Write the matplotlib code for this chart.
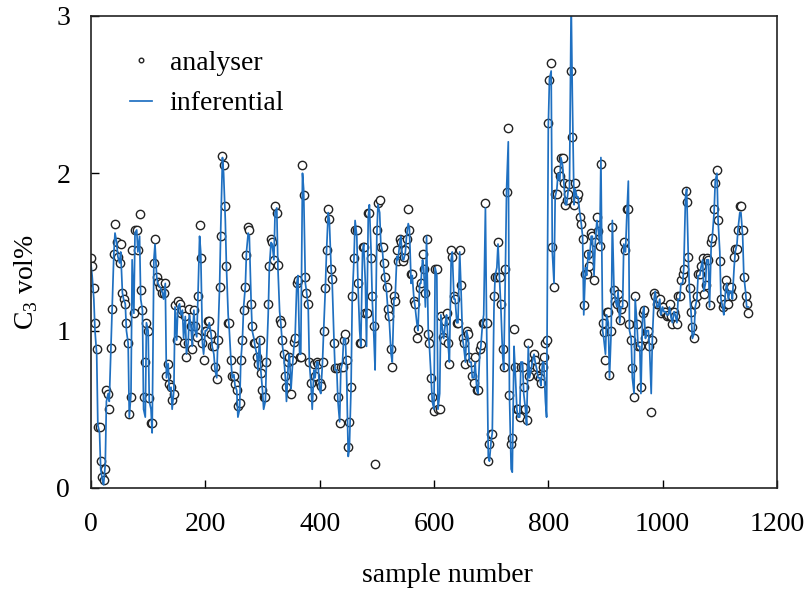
import numpy as np
import matplotlib
matplotlib.use('Agg')
import matplotlib.pyplot as plt

plt.rcParams['font.family'] = ['Liberation Serif', 'DejaVu Serif']
plt.rcParams['mathtext.fontset'] = 'custom'
plt.rcParams['mathtext.rm'] = 'Liberation Serif'

# sample numbers: two interleaved grids (every 5th sample, and offset by 2)
sample_a = np.arange(0, 1151, 5)
sample_b = np.arange(2, 1148, 5)

# inferential estimate (line)
inferential_a = [
    1.42, 1.2, 0.85, 0.35, 0.05, 0.15, 0.6, 0.9, 1.49, 1.56,
    1.43, 1.24, 1.17, 0.92, 0.6, 1.11, 1.64, 1.6, 1.13, 0.45,
    1.0, 0.5, 1.45, 1.34, 1.28, 1.24, 1.3, 0.79, 0.64, 0.62,
    0.94, 1.17, 1.13, 1.09, 0.92, 1.03, 1.13, 0.96, 1.6, 0.92,
    1.0, 1.02, 0.98, 0.85, 0.7, 1.28, 2.1, 1.7, 1.1, 0.8,
    0.72, 0.62, 0.5, 0.95, 1.28, 1.62, 1.2, 0.95, 0.85, 0.95,
    0.62, 0.55, 1.1, 1.56, 1.45, 1.78, 1.12, 0.9, 0.7, 0.78,
    0.63, 0.9, 1.3, 0.85, 2.0, 1.3, 1.15, 0.65, 0.75, 0.8,
    0.62, 0.8, 1.27, 1.75, 1.4, 0.95, 0.75, 0.42, 0.8, 0.95,
    0.2, 0.65, 1.45, 1.6, 1.0, 1.5, 1.3, 1.72, 1.5, 0.95,
    1.6, 1.75, 1.5, 1.3, 1.1, 0.85, 1.2, 1.47, 1.55, 1.45,
    1.5, 1.68, 1.3, 1.2, 1.05, 1.3, 1.45, 1.15, 1.0, 0.7,
    0.5, 1.35, 0.6, 1.0, 1.05, 0.9, 1.45, 1.2, 1.05, 1.5,
    0.95, 0.8, 0.95, 0.8, 0.7, 0.62, 0.85, 1.05, 1.78, 0.2,
    0.3, 1.15, 1.4, 1.3, 0.85, 1.4, 2.2, 0.12, 0.9, 0.5,
    0.45, 0.8, 0.5, 0.9, 0.75, 0.85, 0.75, 0.7, 0.8, 0.55,
    2.3, 2.65, 1.3, 1.9, 1.95, 2.05, 1.8, 1.9, 3.1, 1.8,
    1.85, 1.75, 1.6, 1.4, 1.5, 1.6, 1.35, 1.7, 1.55, 1.0,
    0.85, 1.05, 1.0, 1.25, 1.15, 1.05, 1.15, 1.5, 1.95, 0.95,
    0.6, 1.05, 0.9, 1.1, 0.95, 1.0, 0.6, 1.2, 1.15, 1.2,
    1.15, 1.12, 1.1, 1.08, 1.12, 1.05, 1.2, 1.3, 1.85, 1.45,
    1.1, 0.98, 1.2, 1.35, 1.45, 1.3, 1.45, 1.55, 1.75, 2.0,
    1.5, 1.15, 1.25, 1.2, 1.25, 1.4, 1.55, 1.75, 1.6, 1.25,
    1.15,
]
inferential_b = [
    1.35, 1.0, 0.4, 0.12, 0.02, 0.55, 0.55, 1.14, 1.62, 1.47,
    1.5, 1.2, 1.0, 0.45, 1.45, 1.62, 1.5, 1.2, 0.5, 1.05,
    0.55, 0.35, 1.55, 1.3, 1.27, 1.2, 0.7, 0.62, 0.5, 1.15,
    1.15, 1.1, 0.95, 0.85, 1.1, 0.9, 1.0, 1.2, 1.5, 0.85,
    1.0, 1.05, 0.9, 0.75, 0.95, 1.65, 2.0, 1.4, 1.0, 0.7,
    0.65, 0.45, 0.8, 1.15, 1.5, 1.6, 1.0, 0.9, 0.75, 0.75,
    0.5, 0.8, 1.4, 1.55, 1.75, 1.4, 1.05, 0.85, 0.55, 0.85,
    0.75, 0.95, 1.35, 0.85, 1.9, 1.25, 0.8, 0.5, 0.7, 0.8,
    0.6, 1.0, 1.5, 1.7, 1.3, 0.75, 0.55, 0.75, 0.95, 0.75,
    0.25, 1.2, 1.7, 1.3, 0.9, 1.55, 0.9, 1.8, 1.2, 0.75,
    1.8, 1.55, 1.4, 1.25, 1.05, 0.8, 1.2, 1.45, 1.6, 1.45,
    1.6, 1.65, 1.35, 1.15, 1.0, 1.3, 1.4, 1.6, 0.9, 0.55,
    1.4, 0.5, 1.1, 0.95, 1.1, 0.8, 1.5, 1.2, 1.05, 1.3,
    0.9, 1.0, 0.8, 0.7, 0.8, 0.6, 0.9, 1.1, 1.05, 0.17,
    0.35, 1.35, 1.55, 1.15, 0.75, 1.9, 0.6, 0.1, 0.75, 0.45,
    0.8, 0.6, 0.4, 0.7, 0.8, 0.8, 0.7, 0.65, 0.8, 0.45,
    2.6, 1.5, 1.85, 2.0, 2.1, 1.95, 1.8, 1.9, 2.5, 1.9,
    1.85, 1.7, 1.1, 1.35, 1.45, 1.6, 1.55, 1.65, 2.1, 0.95,
    1.1, 0.7, 1.7, 1.2, 1.25, 1.15, 1.55, 1.7, 1.0, 0.7,
    1.2, 0.9, 0.6, 1.15, 1.0, 0.9, 0.95, 1.25, 1.15, 1.1,
    1.12, 1.1, 1.15, 1.05, 1.1, 1.2, 1.3, 1.4, 1.9, 1.25,
    0.95, 1.15, 1.35, 1.4, 1.25, 1.45, 1.15, 1.6, 1.95, 1.7,
    1.2, 1.1, 1.3, 1.25, 1.2, 1.5, 1.65, 1.75, 1.35, 1.15,
]

# analyser measurements (markers)
analyser_a = [
    1.46, 1.27, 0.88, 0.39, 0.07, 0.12, 0.6, 0.89, 1.49, 1.56,
    1.43, 1.24, 1.17, 0.92, 0.58, 1.11, 1.64, 1.74, 1.13, 0.8,
    1.0, 0.41, 1.43, 1.34, 1.28, 1.24, 1.3, 0.79, 0.64, 0.6,
    0.94, 1.17, 1.13, 1.09, 0.92, 1.03, 1.13, 0.96, 1.67, 0.92,
    1.0, 1.06, 0.98, 0.9, 0.69, 1.28, 2.11, 1.79, 1.05, 0.81,
    0.71, 0.62, 0.54, 0.94, 1.28, 1.66, 1.17, 0.92, 0.83, 0.94,
    0.62, 0.58, 1.17, 1.58, 1.45, 1.75, 1.07, 0.94, 0.71, 0.8,
    0.6, 0.93, 1.3, 0.83, 2.05, 1.34, 1.17, 0.67, 0.79, 0.8,
    0.67, 0.8, 1.27, 1.77, 1.39, 0.92, 0.76, 0.41, 0.77, 0.98,
    0.26, 0.64, 1.46, 1.64, 0.92, 1.53, 1.11, 1.75, 1.46, 1.03,
    1.64, 1.83, 1.53, 1.34, 1.14, 0.88, 1.22, 1.51, 1.58, 1.44,
    1.51, 1.77, 1.36, 1.19, 0.95, 1.27, 1.49, 1.24, 0.98, 0.7,
    0.49, 1.39, 0.5, 0.96, 1.06, 0.92, 1.51, 1.22, 1.05, 1.51,
    0.95, 0.79, 0.98, 0.8, 0.67, 0.62, 0.88, 1.05, 1.81, 0.17,
    0.34, 1.22, 1.34, 1.34, 0.88, 1.39, 2.29, 0.28, 1.01, 0.5,
    0.45, 0.77, 0.5, 0.92, 0.77, 0.85, 0.77, 0.7, 0.77, 0.92,
    2.32, 2.7, 1.28, 1.87, 1.98, 2.1, 1.8, 1.87, 2.65, 1.8,
    1.84, 1.72, 1.58, 1.36, 1.49, 1.62, 1.32, 1.72, 1.54, 1.05,
    0.81, 1.12, 1.0, 1.26, 1.17, 1.07, 1.17, 1.51, 1.77, 0.94,
    0.58, 1.04, 0.9, 1.11, 0.95, 1.0, 0.48, 1.24, 1.17, 1.2,
    1.15, 1.12, 1.1, 1.09, 1.12, 1.04, 1.22, 1.36, 1.89, 1.47,
    1.12, 0.95, 1.22, 1.36, 1.46, 1.29, 1.45, 1.56, 1.77, 2.02,
    1.44, 1.15, 1.32, 1.17, 1.28, 1.47, 1.52, 1.79, 1.64, 1.22,
    1.11,
]
analyser_b = [
    1.41, 1.05, 0.39, 0.17, 0.05, 0.62, 0.5, 1.14, 1.68, 1.47,
    1.55, 1.2, 1.05, 0.47, 1.51, 1.64, 1.51, 1.26, 0.58, 1.05,
    0.57, 0.41, 1.58, 1.31, 1.3, 1.24, 0.71, 0.66, 0.56, 1.16,
    1.19, 1.11, 0.92, 0.83, 1.14, 0.88, 1.03, 1.22, 1.46, 0.81,
    1.0, 1.06, 0.9, 0.77, 0.94, 1.6, 2.05, 1.41, 1.05, 0.71,
    0.66, 0.52, 0.81, 1.13, 1.48, 1.64, 1.03, 0.92, 0.79, 0.73,
    0.58, 0.8, 1.41, 1.56, 1.79, 1.42, 1.05, 0.85, 0.64, 0.83,
    0.81, 0.95, 1.32, 0.83, 1.86, 1.24, 0.8, 0.58, 0.71, 0.79,
    0.65, 1.0, 1.51, 1.71, 1.33, 0.76, 0.58, 0.77, 0.94, 0.81,
    0.42, 1.22, 1.64, 1.3, 0.92, 1.53, 1.11, 1.75, 1.22, 0.15,
    1.81, 1.53, 1.43, 1.28, 1.09, 0.77, 1.19, 1.44, 1.56, 1.47,
    1.58, 1.64, 1.36, 1.17, 1.01, 1.3, 1.39, 1.58, 0.92, 0.58,
    1.39, 0.5, 1.09, 0.94, 1.11, 0.79, 1.47, 1.2, 1.05, 1.29,
    0.92, 1.0, 0.83, 0.71, 0.83, 0.62, 0.91, 1.05, 1.05, 0.28,
    0.34, 1.34, 1.56, 1.17, 0.77, 1.88, 0.59, 0.32, 0.77, 0.5,
    0.77, 0.64, 0.43, 0.71, 0.79, 0.81, 0.71, 0.67, 0.83, 0.94,
    2.59, 1.53, 1.87, 2.02, 2.1, 1.94, 1.83, 1.93, 2.23, 1.94,
    1.87, 1.68, 1.16, 1.36, 1.41, 1.6, 1.56, 1.63, 2.06, 0.99,
    1.12, 0.72, 1.66, 1.19, 1.23, 1.14, 1.56, 1.77, 1.04, 0.76,
    1.22, 0.9, 0.64, 1.13, 1.0, 0.9, 0.94, 1.22, 1.17, 1.11,
    1.12, 1.09, 1.17, 1.04, 1.09, 1.22, 1.32, 1.39, 1.82, 1.27,
    1.02, 1.17, 1.36, 1.41, 1.23, 1.46, 1.16, 1.59, 1.94, 1.7,
    1.2, 1.17, 1.28, 1.26, 1.22, 1.52, 1.64, 1.79, 1.34, 1.17,
]

# merge the two grids into one series each
x_all = np.concatenate([sample_a, sample_b])
order = np.argsort(x_all, kind='stable')
x_all = x_all[order]
inferential = np.concatenate([inferential_a, inferential_b])[order]
analyser = np.concatenate([analyser_a, analyser_b])[order]

fig = plt.figure(figsize=(8.08, 5.9), dpi=100)
ax = fig.add_axes([0.1126, 0.173, 0.849, 0.8])

ax.plot(x_all, analyser, 'o', markersize=6, markerfacecolor='white',
        markeredgecolor='#222222', markeredgewidth=1.0, label='analyser')
ax.plot(x_all, inferential, '-', color='#1f70c1', linewidth=1.25,
        label='inferential')

ax.set_xlim(0, 1200)
ax.set_ylim(0, 3)
ax.set_xticks([0, 200, 400, 600, 800, 1000, 1200])
ax.set_yticks([0, 1, 2, 3])
ax.tick_params(direction='in', length=6, width=1, labelsize=20,
               top=False, right=False)
ax.tick_params(axis='x', pad=17)
ax.tick_params(axis='y', pad=15)
for sp in ax.spines.values():
    sp.set_linewidth(1.2)
    sp.set_color('#222222')

ax.set_xlabel('sample number', fontsize=20)
ax.xaxis.set_label_coords(0.52, -0.16)
ax.set_ylabel('C$_3$ vol%', fontsize=20)
ax.yaxis.set_label_coords(-0.075, 0.436)

ax.legend(loc='upper left', frameon=False, fontsize=20, markerscale=0.55,
          handlelength=0.8, handletextpad=0.65, labelspacing=0.55,
          borderaxespad=0, bbox_to_anchor=(0.04, 0.951))

fig.savefig('out.png', dpi=100)
